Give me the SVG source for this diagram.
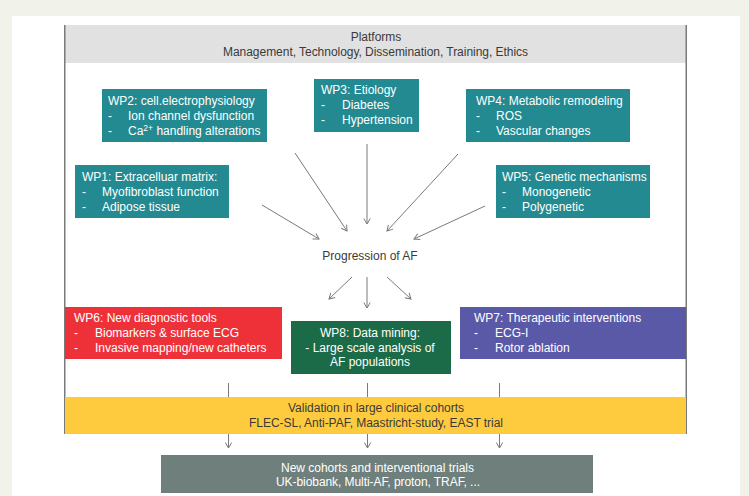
<svg xmlns="http://www.w3.org/2000/svg" width="749" height="496" viewBox="0 0 749 496">
<defs>
<style>
text{font-family:"Liberation Sans",Arial,sans-serif}
.wt{fill:#fff;font-size:12px}
.dk{fill:#3a3a3a;font-size:12px}
.teal{fill:#238a92}
.c{stroke:#7a7a7a;stroke-width:1;fill:none}
.frame{stroke:#7a7a7a;stroke-width:1.5;fill:none}
</style>
<marker id="ah" markerWidth="8" markerHeight="8" refX="6" refY="4" orient="auto" markerUnits="userSpaceOnUse">
<path d="M0.5,0.8 L6,4 L0.5,7.2" fill="none" stroke="#7a7a7a" stroke-width="1"/>
</marker>
</defs>
<rect x="0" y="0" width="749" height="496" fill="#f1f2e9"/>
<rect x="12" y="16" width="728" height="480" fill="#fff"/>

<g id="platforms">
<rect x="65" y="25" width="621" height="38" fill="#e1e1e1"/>
<text class="dk" x="376" y="41" text-anchor="middle">Platforms</text>
<text class="dk" x="375.5" y="56" text-anchor="middle" textLength="305">Management, Technology, Dissemination, Training, Ethics</text>
</g>
<path class="frame" d="M64.75,25 V434 M686.25,25 V434"/>

<g id="wp2">
<rect class="teal" x="102" y="89" width="165" height="53"/>
<text class="wt" x="108" y="105">WP2: cell.electrophysiology</text>
<text class="wt" x="108" y="120">-</text><text class="wt" x="128" y="120">Ion channel dysfunction</text>
<text class="wt" x="108" y="135">-</text><text class="wt" x="128" y="135">Ca<tspan font-size="8.5" dy="-4.5">2+</tspan><tspan dy="4.5"> handling alterations</tspan></text>
</g>
<g id="wp3">
<rect class="teal" x="314" y="79" width="105" height="53"/>
<text class="wt" x="321" y="94">WP3: Etiology</text>
<text class="wt" x="321" y="109">-</text><text class="wt" x="342" y="109">Diabetes</text>
<text class="wt" x="321" y="124">-</text><text class="wt" x="342" y="124">Hypertension</text>
</g>
<g id="wp4">
<rect class="teal" x="466" y="89" width="164" height="53"/>
<text class="wt" x="476" y="105">WP4: Metabolic remodeling</text>
<text class="wt" x="476" y="120">-</text><text class="wt" x="496" y="120">ROS</text>
<text class="wt" x="476" y="135">-</text><text class="wt" x="496" y="135">Vascular changes</text>
</g>
<g id="wp1">
<rect class="teal" x="75" y="165" width="154" height="53"/>
<text class="wt" x="82" y="181">WP1: Extracelluar matrix:</text>
<text class="wt" x="82" y="196">-</text><text class="wt" x="102" y="196">Myofibroblast function</text>
<text class="wt" x="82" y="211">-</text><text class="wt" x="102" y="211">Adipose tissue</text>
</g>
<g id="wp5">
<rect class="teal" x="496" y="165" width="154" height="53"/>
<text class="wt" x="502" y="181">WP5: Genetic mechanisms</text>
<text class="wt" x="502" y="196">-</text><text class="wt" x="522" y="196">Monogenetic</text>
<text class="wt" x="502" y="211">-</text><text class="wt" x="522" y="211">Polygenetic</text>
</g>
<g id="progression">
<text class="dk" x="370" y="260" text-anchor="middle">Progression of AF</text>
</g>
<g id="wp6">
<rect x="65" y="307" width="217" height="52" fill="#ee3139"/>
<text class="wt" x="74" y="322">WP6: New diagnostic tools</text>
<text class="wt" x="74" y="337">-</text><text class="wt" x="95" y="337">Biomarkers &amp; surface ECG</text>
<text class="wt" x="74" y="352">-</text><text class="wt" x="95" y="352">Invasive mapping/new catheters</text>
</g>
<g id="wp8">
<rect x="291" y="321" width="160" height="53" fill="#1c6b48"/>
<text class="wt" x="370" y="337" text-anchor="middle">WP8: Data mining:</text>
<text class="wt" x="370" y="352" text-anchor="middle">- Large scale analysis of</text>
<text class="wt" x="370" y="366" text-anchor="middle">AF populations</text>
</g>
<g id="wp7">
<rect x="460" y="307" width="226" height="52" fill="#5a59a8"/>
<text class="wt" x="474" y="322">WP7: Therapeutic interventions</text>
<text class="wt" x="474" y="337">-</text><text class="wt" x="495" y="337">ECG-I</text>
<text class="wt" x="474" y="352">-</text><text class="wt" x="495" y="352">Rotor ablation</text>
</g>
<g id="validation">
<rect x="65" y="397" width="621" height="37" fill="#fecb3e"/>
<text class="dk" x="376" y="412" text-anchor="middle" textLength="176">Validation in large clinical cohorts</text>
<text class="dk" x="376" y="427" text-anchor="middle" textLength="254">FLEC-SL, Anti-PAF, Maastricht-study, EAST trial</text>
</g>
<g id="newcohorts">
<rect x="161" y="455" width="432" height="38" fill="#6e7f7c"/>
<text class="wt" x="377.5" y="471.5" text-anchor="middle" textLength="193">New cohorts and interventional trials</text>
<text class="wt" x="378" y="486" text-anchor="middle" textLength="204">UK-biobank, Multi-AF, proton, TRAF, ...</text>
</g>

<g id="connectors">
<path class="c" d="M295,153 L347,231" marker-end="url(#ah)"/>
<path class="c" d="M367,144 L367,224" marker-end="url(#ah)"/>
<path class="c" d="M458,154 L387,231" marker-end="url(#ah)"/>
<path class="c" d="M262,205 L319,239" marker-end="url(#ah)"/>
<path class="c" d="M485,206 L414,239" marker-end="url(#ah)"/>
<path class="c" d="M352,277 L329,299" marker-end="url(#ah)"/>
<path class="c" d="M367,277 L367,308" marker-end="url(#ah)"/>
<path class="c" d="M387,277 L411,299" marker-end="url(#ah)"/>
<path class="c" d="M228.5,383 V397 M367.5,383 V397 M499.5,383 V397"/>
<path class="c" d="M228.5,434 V448" marker-end="url(#ah)"/>
<path class="c" d="M367.5,434 V448" marker-end="url(#ah)"/>
<path class="c" d="M499.5,434 V448" marker-end="url(#ah)"/>
</g>
</svg>
